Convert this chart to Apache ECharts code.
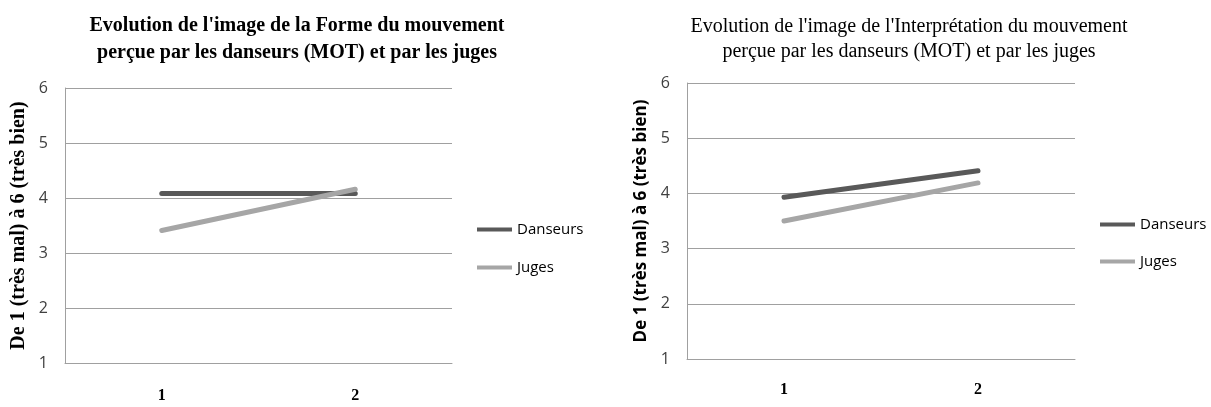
<!DOCTYPE html>
<html>
<head>
<meta charset="utf-8">
<script src="https://cdn.jsdelivr.net/npm/echarts@6/dist/echarts.min.js"></script>
<style>html,body{margin:0;padding:0;background:#fff}#c{width:1211px;height:407px}</style>
</head>
<body>
<div id="c"></div>
<script>
const categories = ['1', '2'];
const yTicks = [1, 2, 3, 4, 5, 6];
const formeDanseurs = [4.08, 4.08];
const formeJuges = [3.41, 4.16];
const interpDanseurs = [3.93, 4.41];
const interpJuges = [3.50, 4.19];
const titleLeft = "Evolution de l'image de la Forme du mouvement\nperçue par les danseurs (MOT) et par les juges";
const titleRight = "Evolution de l'image de l'Interprétation du mouvement\nperçue par les danseurs (MOT) et par les juges";
const yName = "De 1 (très mal) à 6 (très bien)";

const chart = echarts.init(document.getElementById('c'));
const tickFont = "'Open Sans', sans-serif";
const gridColor = '#a0a0a0';
function xAx(gi, margin) {
  return {
    type: 'category', gridIndex: gi, data: categories, boundaryGap: true,
    axisLine: {lineStyle: {color: gridColor, width: 1}},
    axisTick: {show: false},
    axisLabel: {color: '#000', fontWeight: 'bold', fontFamily: 'Liberation Serif', fontSize: 16, margin: margin}
  };
}
function yAx(gi, nameStyle, gap) {
  return {
    type: 'value', gridIndex: gi, min: yTicks[0], max: yTicks[yTicks.length - 1], interval: 1,
    name: yName, nameLocation: 'middle', nameGap: gap, nameRotate: 90,
    nameTextStyle: nameStyle,
    axisLine: {show: true, lineStyle: {color: gridColor, width: 1}},
    axisTick: {show: false},
    splitLine: {lineStyle: {color: gridColor, width: 1}},
    axisLabel: {color: '#404040', fontFamily: tickFont, fontSize: 16, margin: 17}
  };
}
function ser(name, data, gi, color) {
  return {
    type: 'line', name: name, data: data, xAxisIndex: gi, yAxisIndex: gi,
    symbol: 'none', lineStyle: {color: color, width: 5, cap: 'round'}, itemStyle: {color: color},
    animation: false
  };
}
const legendCommon = {
  orient: 'vertical', icon: 'rect', itemWidth: 35, itemHeight: 4,
  textStyle: {color: '#000', fontFamily: tickFont, fontSize: 15},
  data: ['Danseurs', 'Juges']
};
chart.setOption({
  animation: false,
  title: [
    {text: titleLeft, left: 292, top: 7, textAlign: 'center',
     textStyle: {fontFamily: 'Liberation Serif', fontWeight: 'bold', fontSize: 20, lineHeight: 27, color: '#000'}},
    {text: titleRight, left: 904, top: 9, textAlign: 'center',
     textStyle: {fontFamily: 'Liberation Serif', fontWeight: 'normal', fontSize: 20, lineHeight: 25, color: '#000'}}
  ],
  legend: [
    Object.assign({}, legendCommon, {left: 472, top: 217, itemGap: 23}),
    Object.assign({}, legendCommon, {left: 1095, top: 212, itemGap: 22})
  ],
  grid: [
    {left: 65, right: 759, top: 88, bottom: 44},
    {left: 687, right: 136, top: 83, bottom: 48}
  ],
  xAxis: [xAx(0, 25), xAx(1, 23)],
  yAxis: [
    yAx(0, {fontFamily: 'Liberation Serif', fontWeight: 'bold', fontSize: 20, color: '#000'}, 36),
    yAx(1, {fontFamily: "'Open Sans', sans-serif", fontWeight: 'bold', fontSize: 17, color: '#000'}, 37)
  ],
  series: [
    ser('Danseurs', formeDanseurs, 0, '#595959'),
    ser('Juges', formeJuges, 0, '#a6a6a6'),
    ser('Danseurs', interpDanseurs, 1, '#595959'),
    ser('Juges', interpJuges, 1, '#a6a6a6')
  ]
});
</script>
</body>
</html>
